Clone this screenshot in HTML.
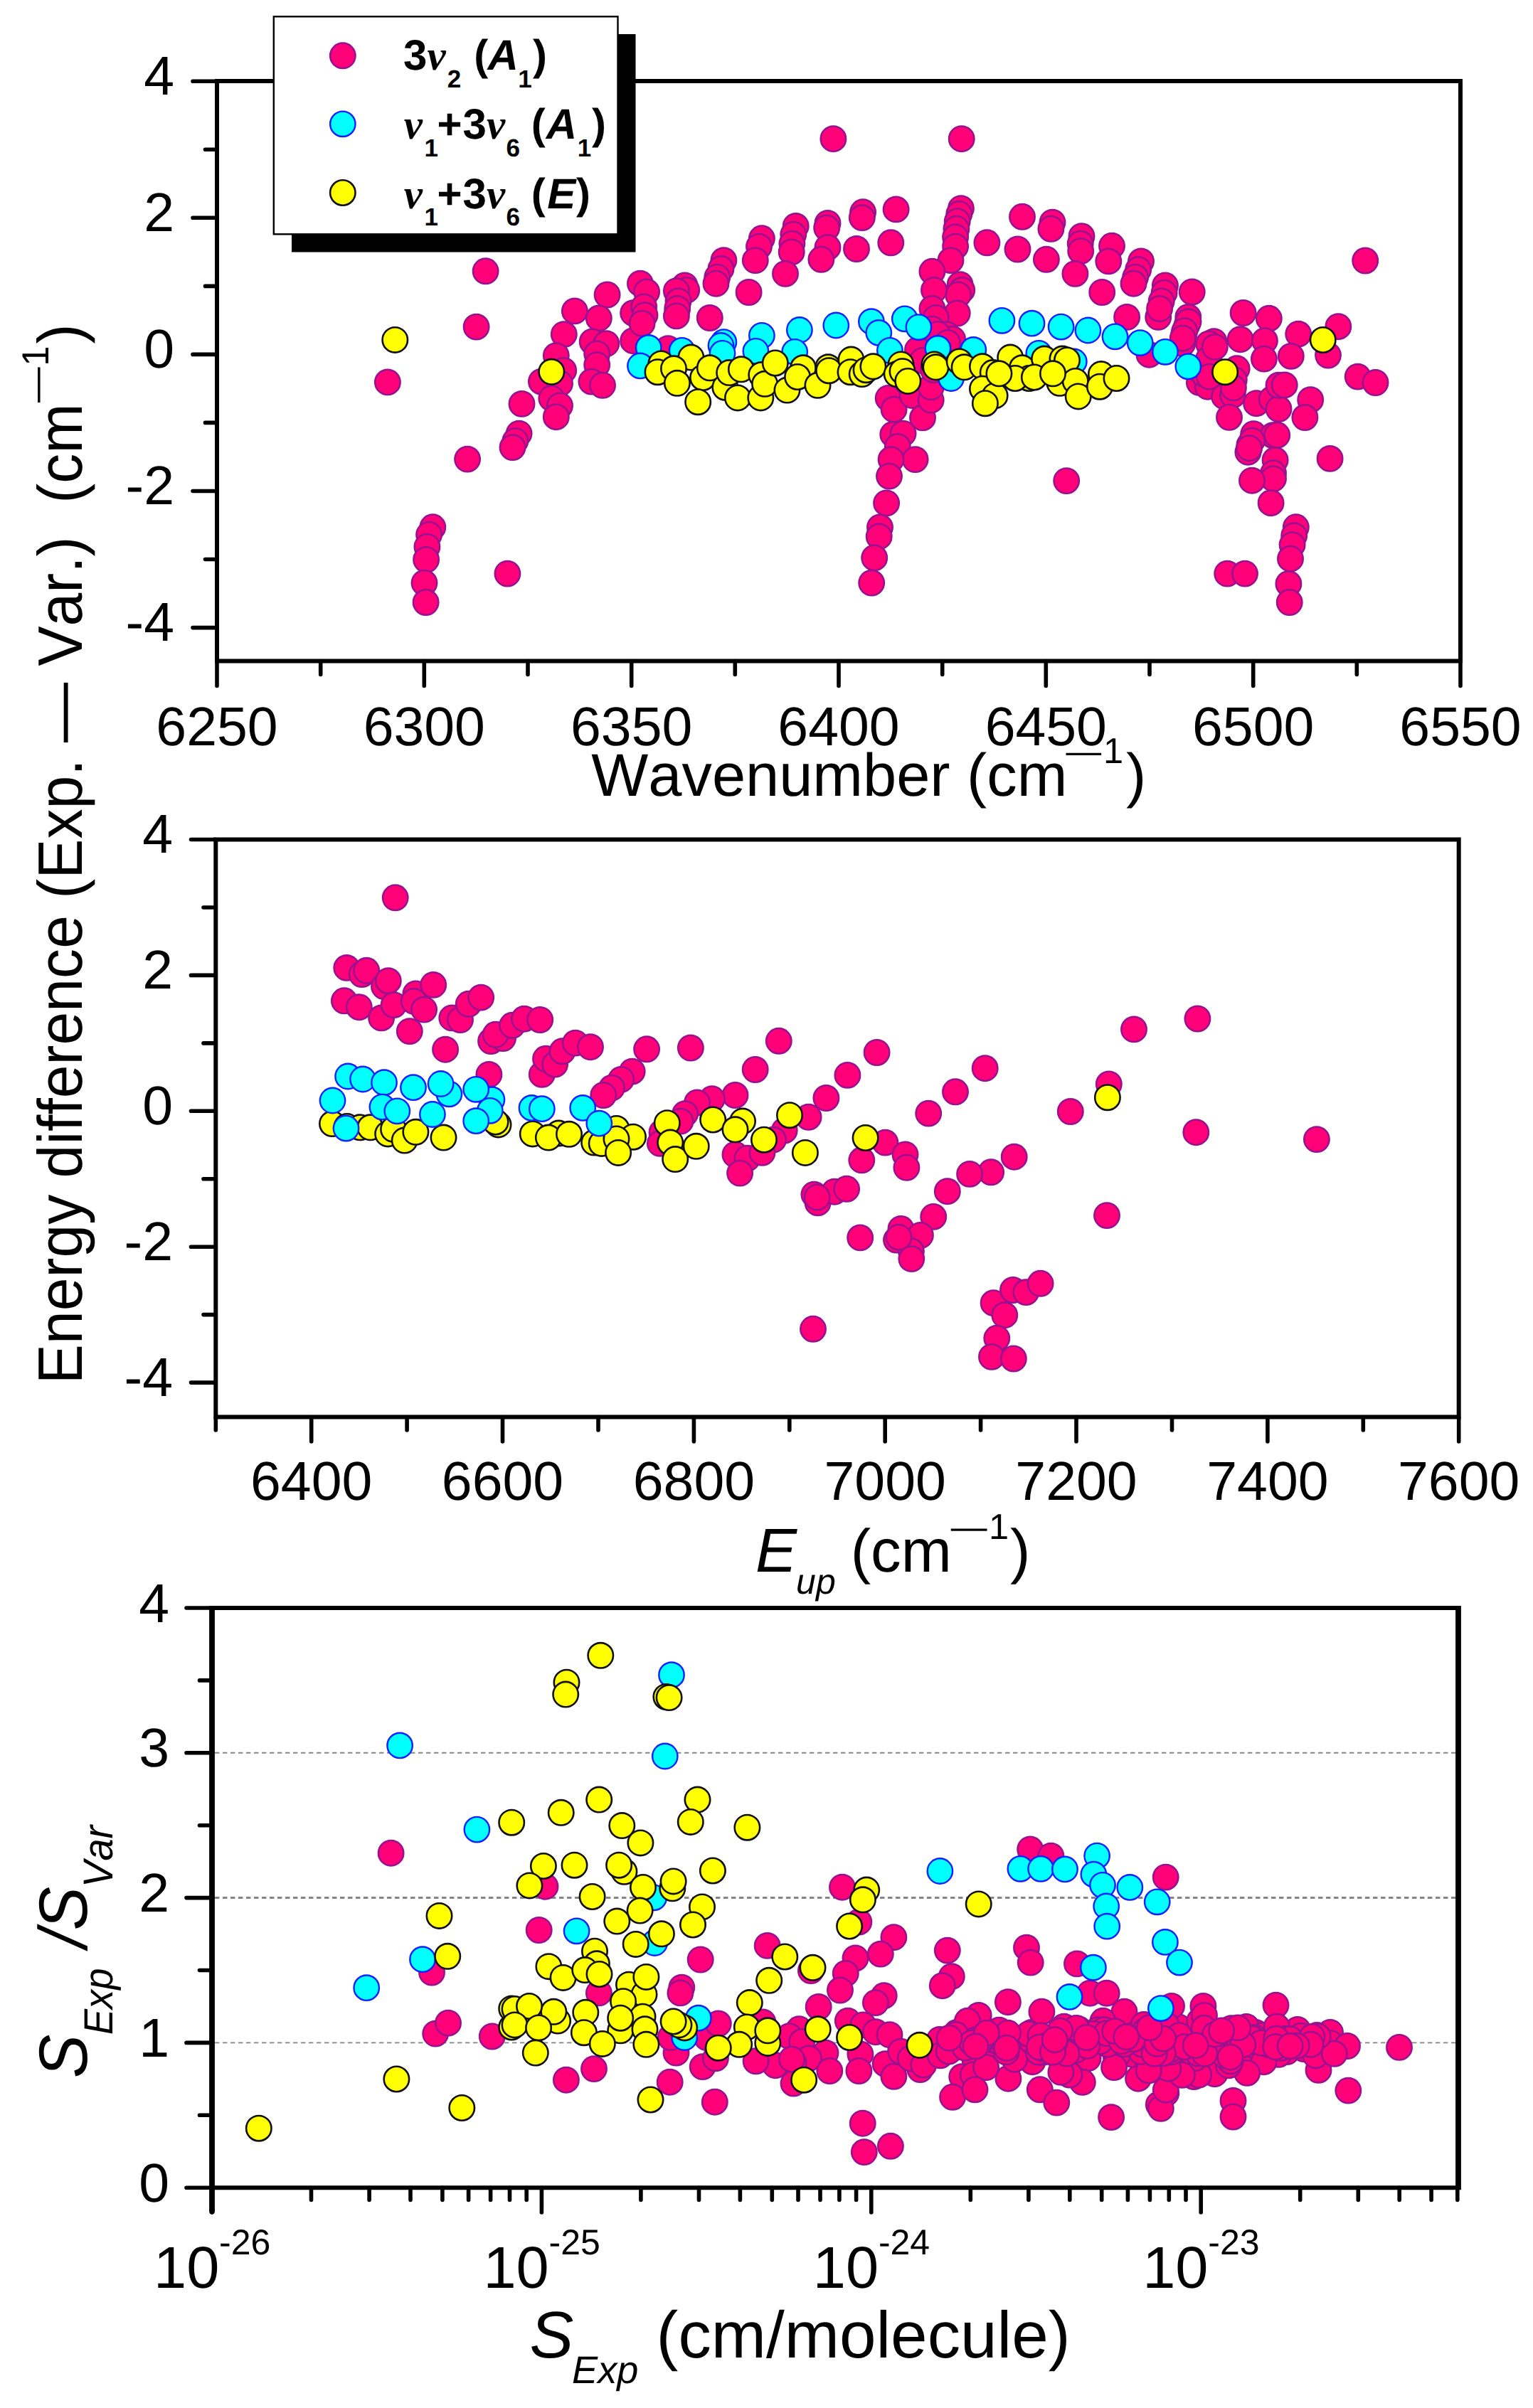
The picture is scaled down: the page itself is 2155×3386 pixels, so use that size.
<!DOCTYPE html>
<html><head><meta charset="utf-8"><title>Energy difference plots</title>
<style>html,body{margin:0;padding:0;background:#fff}svg{display:block}</style>
</head><body>
<svg width="2155" height="3386" viewBox="0 0 2155 3386">
<style>
text{font-family:"Liberation Sans",sans-serif;fill:#000;white-space:pre;font-kerning:none;text-rendering:geometricPrecision}
.tk{font-size:77px}
.sup{font-size:48px}
.ax{stroke:#000;stroke-width:6;fill:none;stroke-linecap:butt}
.tick{stroke:#000;stroke-width:5.6;fill:none;stroke-linecap:round}
.p circle{fill:#ff0078;stroke:#96128f;stroke-width:2.5}
.c circle{fill:#00ffff;stroke:#1020ff;stroke-width:2.4}
.y circle{fill:#ffff00;stroke:#111;stroke-width:2.6}
.it{font-style:italic}
.b{font-weight:bold}
.nu{font-family:"Liberation Serif","DejaVu Serif",serif;font-style:italic;font-weight:bold}
</style>
<rect width="2155" height="3386" fill="#fff"/>
<g id="panel1">
<g class="p">
<circle cx="682.6" cy="381.3" r="17.7"/><circle cx="669.6" cy="459.6" r="17.7"/><circle cx="544.9" cy="537.4" r="17.7"/><circle cx="853.6" cy="414.5" r="17.7"/><circle cx="807.9" cy="437.4" r="17.7"/><circle cx="841.8" cy="447.4" r="17.7"/><circle cx="792.8" cy="470.1" r="17.7"/><circle cx="832.7" cy="480.5" r="17.7"/><circle cx="852.3" cy="483.1" r="17.7"/><circle cx="839.2" cy="497.5" r="17.7"/><circle cx="839.2" cy="513.1" r="17.7"/><circle cx="781.8" cy="500.1" r="17.7"/><circle cx="831.4" cy="536.6" r="17.7"/><circle cx="847.0" cy="541.8" r="17.7"/><circle cx="792.2" cy="520.9" r="17.7"/><circle cx="760.9" cy="536.6" r="17.7"/><circle cx="787.0" cy="539.2" r="17.7"/><circle cx="775.3" cy="560.1" r="17.7"/><circle cx="787.0" cy="570.5" r="17.7"/><circle cx="733.5" cy="567.9" r="17.7"/><circle cx="781.8" cy="586.2" r="17.7"/><circle cx="890.1" cy="440.1" r="17.7"/><circle cx="890.1" cy="479.2" r="17.7"/><circle cx="1171.4" cy="195.2" r="17.7"/><circle cx="1213.1" cy="298.3" r="17.7"/><circle cx="1211.8" cy="306.1" r="17.7"/><circle cx="1259.6" cy="294.4" r="17.7"/><circle cx="1252.3" cy="341.3" r="17.7"/><circle cx="1204.0" cy="350.0" r="17.7"/><circle cx="1163.5" cy="313.9" r="17.7"/><circle cx="1162.2" cy="320.5" r="17.7"/><circle cx="1163.5" cy="347.9" r="17.7"/><circle cx="1154.4" cy="364.8" r="17.7"/><circle cx="1118.7" cy="317.9" r="17.7"/><circle cx="1115.3" cy="329.6" r="17.7"/><circle cx="1113.4" cy="342.6" r="17.7"/><circle cx="1112.7" cy="354.4" r="17.7"/><circle cx="1104.0" cy="384.9" r="17.7"/><circle cx="1070.9" cy="335.3" r="17.7"/><circle cx="1067.0" cy="346.6" r="17.7"/><circle cx="1061.8" cy="366.1" r="17.7"/><circle cx="1052.6" cy="411.0" r="17.7"/><circle cx="1017.4" cy="366.1" r="17.7"/><circle cx="1013.5" cy="377.9" r="17.7"/><circle cx="1008.3" cy="389.6" r="17.7"/><circle cx="1006.5" cy="398.7" r="17.7"/><circle cx="962.6" cy="401.4" r="17.7"/><circle cx="965.2" cy="407.9" r="17.7"/><circle cx="950.9" cy="409.2" r="17.7"/><circle cx="953.5" cy="423.5" r="17.7"/><circle cx="952.2" cy="434.0" r="17.7"/><circle cx="950.9" cy="444.4" r="17.7"/><circle cx="997.8" cy="447.0" r="17.7"/><circle cx="900.0" cy="398.7" r="17.7"/><circle cx="909.1" cy="410.5" r="17.7"/><circle cx="905.2" cy="431.4" r="17.7"/><circle cx="906.5" cy="443.1" r="17.7"/><circle cx="902.6" cy="454.8" r="17.7"/><circle cx="939.1" cy="490.1" r="17.7"/><circle cx="1584.1" cy="445.9" r="17.7"/><circle cx="1628.2" cy="445.9" r="17.7"/><circle cx="1670.3" cy="445.9" r="17.7"/><circle cx="1668.3" cy="457.6" r="17.7"/><circle cx="1664.4" cy="469.4" r="17.7"/><circle cx="1662.4" cy="483.1" r="17.7"/><circle cx="1615.5" cy="498.7" r="17.7"/><circle cx="1706.5" cy="480.1" r="17.7"/><circle cx="1703.5" cy="490.9" r="17.7"/><circle cx="1697.7" cy="518.3" r="17.7"/><circle cx="1685.9" cy="537.8" r="17.7"/><circle cx="1697.7" cy="543.7" r="17.7"/><circle cx="1743.6" cy="477.2" r="17.7"/><circle cx="1747.6" cy="440.0" r="17.7"/><circle cx="1783.8" cy="447.8" r="17.7"/><circle cx="1777.9" cy="479.1" r="17.7"/><circle cx="1776.9" cy="504.6" r="17.7"/><circle cx="1738.7" cy="518.3" r="17.7"/><circle cx="1734.8" cy="533.9" r="17.7"/><circle cx="1721.1" cy="557.4" r="17.7"/><circle cx="1732.9" cy="555.5" r="17.7"/><circle cx="1728.0" cy="586.8" r="17.7"/><circle cx="1766.1" cy="567.2" r="17.7"/><circle cx="1787.7" cy="561.3" r="17.7"/><circle cx="1797.5" cy="575.0" r="17.7"/><circle cx="1797.5" cy="541.8" r="17.7"/><circle cx="1762.2" cy="610.3" r="17.7"/><circle cx="1756.4" cy="625.9" r="17.7"/><circle cx="1789.6" cy="612.2" r="17.7"/><circle cx="1754.4" cy="635.7" r="17.7"/><circle cx="1351.7" cy="195.2" r="17.7"/><circle cx="1350.9" cy="293.1" r="17.7"/><circle cx="1348.3" cy="300.9" r="17.7"/><circle cx="1345.7" cy="311.3" r="17.7"/><circle cx="1344.4" cy="321.8" r="17.7"/><circle cx="1343.1" cy="333.5" r="17.7"/><circle cx="1343.1" cy="346.6" r="17.7"/><circle cx="1336.5" cy="366.1" r="17.7"/><circle cx="1349.6" cy="400.1" r="17.7"/><circle cx="1352.2" cy="407.9" r="17.7"/><circle cx="1347.0" cy="414.4" r="17.7"/><circle cx="1345.7" cy="440.5" r="17.7"/><circle cx="1310.4" cy="381.8" r="17.7"/><circle cx="1313.0" cy="407.9" r="17.7"/><circle cx="1310.4" cy="434.0" r="17.7"/><circle cx="1315.7" cy="447.0" r="17.7"/><circle cx="1331.3" cy="470.5" r="17.7"/><circle cx="1339.1" cy="477.0" r="17.7"/><circle cx="1310.4" cy="462.7" r="17.7"/><circle cx="1387.4" cy="341.3" r="17.7"/><circle cx="1437.0" cy="304.8" r="17.7"/><circle cx="1430.5" cy="350.5" r="17.7"/><circle cx="1479.5" cy="312.6" r="17.7"/><circle cx="1477.4" cy="321.8" r="17.7"/><circle cx="1470.9" cy="364.8" r="17.7"/><circle cx="1520.5" cy="332.2" r="17.7"/><circle cx="1518.7" cy="342.6" r="17.7"/><circle cx="1519.2" cy="353.1" r="17.7"/><circle cx="1511.4" cy="384.9" r="17.7"/><circle cx="1563.0" cy="345.8" r="17.7"/><circle cx="1558.3" cy="367.4" r="17.7"/><circle cx="1549.2" cy="411.0" r="17.7"/><circle cx="1604.0" cy="367.4" r="17.7"/><circle cx="1600.1" cy="379.2" r="17.7"/><circle cx="1596.2" cy="389.6" r="17.7"/><circle cx="1593.5" cy="398.7" r="17.7"/><circle cx="1637.9" cy="401.4" r="17.7"/><circle cx="1636.6" cy="411.8" r="17.7"/><circle cx="1632.7" cy="423.5" r="17.7"/><circle cx="1630.1" cy="434.0" r="17.7"/><circle cx="1675.7" cy="410.5" r="17.7"/><circle cx="1670.5" cy="452.2" r="17.7"/><circle cx="1665.3" cy="465.3" r="17.7"/><circle cx="1662.7" cy="475.7" r="17.7"/><circle cx="1699.2" cy="483.5" r="17.7"/><circle cx="1691.4" cy="525.3" r="17.7"/><circle cx="1699.2" cy="504.4" r="17.7"/><circle cx="1919.2" cy="366.5" r="17.7"/><circle cx="1881.3" cy="459.2" r="17.7"/><circle cx="1825.2" cy="469.6" r="17.7"/><circle cx="1707.8" cy="487.9" r="17.7"/><circle cx="1814.8" cy="500.9" r="17.7"/><circle cx="1867.0" cy="499.6" r="17.7"/><circle cx="1733.9" cy="545.3" r="17.7"/><circle cx="1805.7" cy="541.4" r="17.7"/><circle cx="1908.7" cy="529.6" r="17.7"/><circle cx="1933.5" cy="538.0" r="17.7"/><circle cx="1842.2" cy="562.2" r="17.7"/><circle cx="1834.4" cy="587.0" r="17.7"/><circle cx="1795.2" cy="611.8" r="17.7"/><circle cx="1760.0" cy="619.6" r="17.7"/><circle cx="1756.1" cy="630.1" r="17.7"/><circle cx="1792.6" cy="647.0" r="17.7"/><circle cx="1790.0" cy="665.3" r="17.7"/><circle cx="1790.0" cy="673.1" r="17.7"/><circle cx="1869.6" cy="644.9" r="17.7"/><circle cx="1760.0" cy="675.7" r="17.7"/><circle cx="1700.0" cy="529.6" r="17.7"/><circle cx="1821.8" cy="741.3" r="17.7"/><circle cx="1819.2" cy="753.1" r="17.7"/><circle cx="1816.6" cy="766.1" r="17.7"/><circle cx="1814.0" cy="785.7" r="17.7"/><circle cx="1811.4" cy="820.9" r="17.7"/><circle cx="1812.7" cy="847.0" r="17.7"/><circle cx="1725.2" cy="806.6" r="17.7"/><circle cx="1750.0" cy="806.6" r="17.7"/><circle cx="729.6" cy="609.6" r="17.7"/><circle cx="724.4" cy="620.0" r="17.7"/><circle cx="720.5" cy="629.1" r="17.7"/><circle cx="657.1" cy="645.6" r="17.7"/><circle cx="608.3" cy="741.3" r="17.7"/><circle cx="603.1" cy="751.8" r="17.7"/><circle cx="600.4" cy="768.7" r="17.7"/><circle cx="599.1" cy="787.0" r="17.7"/><circle cx="596.5" cy="819.6" r="17.7"/><circle cx="598.6" cy="847.0" r="17.7"/><circle cx="713.4" cy="806.6" r="17.7"/><circle cx="1248.7" cy="560.0" r="17.7"/><circle cx="1256.6" cy="575.7" r="17.7"/><circle cx="1282.6" cy="556.1" r="17.7"/><circle cx="1297.0" cy="587.4" r="17.7"/><circle cx="1308.7" cy="562.6" r="17.7"/><circle cx="1255.3" cy="610.9" r="17.7"/><circle cx="1269.6" cy="609.6" r="17.7"/><circle cx="1261.8" cy="627.9" r="17.7"/><circle cx="1286.6" cy="646.1" r="17.7"/><circle cx="1252.6" cy="646.1" r="17.7"/><circle cx="1250.0" cy="669.6" r="17.7"/><circle cx="1246.1" cy="707.4" r="17.7"/><circle cx="1237.0" cy="741.4" r="17.7"/><circle cx="1235.7" cy="754.4" r="17.7"/><circle cx="1229.2" cy="784.4" r="17.7"/><circle cx="1225.2" cy="819.6" r="17.7"/><circle cx="1499.2" cy="676.1" r="17.7"/><circle cx="1308.7" cy="544.4" r="17.7"/><circle cx="1290.0" cy="492.0" r="17.7"/><circle cx="1297.0" cy="507.0" r="17.7"/><circle cx="1318.0" cy="470.0" r="17.7"/><circle cx="1332.0" cy="482.0" r="17.7"/><circle cx="1312.0" cy="520.0" r="17.7"/><circle cx="1325.0" cy="505.0" r="17.7"/><circle cx="1786.6" cy="707.2" r="17.7"/>
</g>
<g class="c">
<circle cx="1175.3" cy="457.5" r="17.7"/><circle cx="1224.9" cy="452.2" r="17.7"/><circle cx="1235.3" cy="467.9" r="17.7"/><circle cx="1271.8" cy="448.3" r="17.7"/><circle cx="1291.4" cy="460.1" r="17.7"/><circle cx="1123.9" cy="464.0" r="17.7"/><circle cx="1070.9" cy="471.8" r="17.7"/><circle cx="911.7" cy="488.9" r="17.7"/><circle cx="900.0" cy="514.4" r="17.7"/><circle cx="958.7" cy="492.8" r="17.7"/><circle cx="1017.4" cy="481.1" r="17.7"/><circle cx="1013.5" cy="486.0" r="17.7"/><circle cx="1015.5" cy="496.8" r="17.7"/><circle cx="1062.4" cy="493.8" r="17.7"/><circle cx="1117.2" cy="494.8" r="17.7"/><circle cx="1250.9" cy="492.8" r="17.7"/><circle cx="1318.4" cy="489.9" r="17.7"/><circle cx="1368.3" cy="491.9" r="17.7"/><circle cx="1337.0" cy="532.0" r="17.7"/><circle cx="1408.4" cy="450.8" r="17.7"/><circle cx="1450.5" cy="454.7" r="17.7"/><circle cx="1491.6" cy="459.6" r="17.7"/><circle cx="1460.3" cy="496.8" r="17.7"/><circle cx="1529.4" cy="464.5" r="17.7"/><circle cx="1567.5" cy="473.3" r="17.7"/><circle cx="1602.7" cy="482.1" r="17.7"/><circle cx="1638.0" cy="494.8" r="17.7"/><circle cx="1670.3" cy="515.3" r="17.7"/><circle cx="1509.8" cy="508.5" r="17.7"/>
</g>
<g class="y">
<circle cx="555.3" cy="477.9" r="17.7"/><circle cx="775.3" cy="522.8" r="17.7"/><circle cx="971.4" cy="502.6" r="17.7"/><circle cx="929.4" cy="511.4" r="17.7"/><circle cx="924.5" cy="523.2" r="17.7"/><circle cx="947.0" cy="518.3" r="17.7"/><circle cx="951.9" cy="538.8" r="17.7"/><circle cx="988.1" cy="531.0" r="17.7"/><circle cx="997.8" cy="517.3" r="17.7"/><circle cx="981.2" cy="565.2" r="17.7"/><circle cx="1019.4" cy="544.7" r="17.7"/><circle cx="1025.2" cy="524.1" r="17.7"/><circle cx="1041.9" cy="519.3" r="17.7"/><circle cx="1037.0" cy="559.4" r="17.7"/><circle cx="1069.3" cy="559.4" r="17.7"/><circle cx="1070.3" cy="527.1" r="17.7"/><circle cx="1075.1" cy="539.8" r="17.7"/><circle cx="1089.8" cy="510.5" r="17.7"/><circle cx="1106.5" cy="548.6" r="17.7"/><circle cx="1129.0" cy="517.3" r="17.7"/><circle cx="1121.1" cy="530.0" r="17.7"/><circle cx="1149.5" cy="541.8" r="17.7"/><circle cx="1164.2" cy="516.3" r="17.7"/><circle cx="1165.2" cy="521.2" r="17.7"/><circle cx="1196.5" cy="505.6" r="17.7"/><circle cx="1195.5" cy="523.2" r="17.7"/><circle cx="1211.7" cy="526.1" r="17.7"/><circle cx="1217.6" cy="520.2" r="17.7"/><circle cx="1227.4" cy="515.3" r="17.7"/><circle cx="1266.5" cy="512.4" r="17.7"/><circle cx="1260.7" cy="526.1" r="17.7"/><circle cx="1268.5" cy="522.2" r="17.7"/><circle cx="1276.3" cy="535.9" r="17.7"/><circle cx="1313.5" cy="512.4" r="17.7"/><circle cx="1315.5" cy="516.3" r="17.7"/><circle cx="1348.7" cy="508.5" r="17.7"/><circle cx="1355.6" cy="516.3" r="17.7"/><circle cx="1381.0" cy="515.3" r="17.7"/><circle cx="1395.7" cy="524.1" r="17.7"/><circle cx="1381.0" cy="546.7" r="17.7"/><circle cx="1398.6" cy="556.4" r="17.7"/><circle cx="1384.9" cy="567.2" r="17.7"/><circle cx="1420.2" cy="502.6" r="17.7"/><circle cx="1436.8" cy="517.3" r="17.7"/><circle cx="1446.6" cy="532.0" r="17.7"/><circle cx="1468.1" cy="504.6" r="17.7"/><circle cx="1488.6" cy="532.0" r="17.7"/><circle cx="1489.6" cy="538.8" r="17.7"/><circle cx="1493.5" cy="504.6" r="17.7"/><circle cx="1427.0" cy="532.0" r="17.7"/><circle cx="1500.0" cy="506.5" r="17.7"/><circle cx="1511.7" cy="535.9" r="17.7"/><circle cx="1515.7" cy="557.4" r="17.7"/><circle cx="1547.9" cy="526.1" r="17.7"/><circle cx="1546.0" cy="543.7" r="17.7"/><circle cx="1569.5" cy="532.0" r="17.7"/><circle cx="1722.1" cy="523.2" r="17.7"/><circle cx="1404.4" cy="525.3" r="17.7"/><circle cx="1453.9" cy="530.5" r="17.7"/><circle cx="1480.0" cy="525.3" r="17.7"/><circle cx="1859.7" cy="478.0" r="17.7"/>
</g>
<path class="ax" d="M305.0 114.0 H2053.0 V929.5 H305.0 Z"/>
<path class="tick" d="M305.0 882.6 H271.0 M305.0 786.5 H288.5 M305.0 690.5 H271.0 M305.0 594.4 H288.5 M305.0 498.4 H271.0 M305.0 402.4 H288.5 M305.0 306.3 H271.0 M305.0 210.3 H288.5 M305.0 114.2 H271.0 M305.0 929.5 V964.5 M450.7 929.5 V948.5 M596.3 929.5 V964.5 M742.0 929.5 V948.5 M887.7 929.5 V964.5 M1033.3 929.5 V948.5 M1179.0 929.5 V964.5 M1324.7 929.5 V948.5 M1470.3 929.5 V964.5 M1616.0 929.5 V948.5 M1761.7 929.5 V964.5 M1907.3 929.5 V948.5 M2053.0 929.5 V964.5"/>
<text class="tk" x="245" y="901.1" text-anchor="end">-4</text>
<text class="tk" x="245" y="709.0" text-anchor="end">-2</text>
<text class="tk" x="245" y="516.9" text-anchor="end">0</text>
<text class="tk" x="245" y="324.8" text-anchor="end">2</text>
<text class="tk" x="245" y="132.7" text-anchor="end">4</text>
<text class="tk" x="305.0" y="1047.5" text-anchor="middle">6250</text>
<text class="tk" x="596.3" y="1047.5" text-anchor="middle">6300</text>
<text class="tk" x="887.7" y="1047.5" text-anchor="middle">6350</text>
<text class="tk" x="1179.0" y="1047.5" text-anchor="middle">6400</text>
<text class="tk" x="1470.3" y="1047.5" text-anchor="middle">6450</text>
<text class="tk" x="1761.7" y="1047.5" text-anchor="middle">6500</text>
<text class="tk" x="2053.0" y="1047.5" text-anchor="middle">6550</text>
</g>
<g id="legend">
<rect x="410" y="48" width="483.5" height="306.5" fill="#000"/>
<rect x="384.8" y="23.3" width="483.7" height="306" fill="#fff" stroke="#000" stroke-width="2.4"/>
<g class="p"><circle cx="481.8" cy="78.3" r="17.7"/></g>
<g class="c"><circle cx="481.8" cy="174.3" r="17.7"/></g>
<g class="y"><circle cx="481.8" cy="271" r="17.7"/></g>
<text class="b"><tspan x="567.0" y="98.3" font-size="60">3</tspan><tspan class="nu" x="600.5" y="98.3" font-size="59">ν</tspan><tspan x="628.8" y="122.8" font-size="35">2</tspan><tspan x="666.2" y="98.3" font-size="60">(</tspan><tspan class="it" x="685.6" y="98.3" font-size="60">A</tspan><tspan x="728.2" y="122.8" font-size="35">1</tspan><tspan x="749.1" y="98.3" font-size="60">)</tspan></text>
<text class="b"><tspan class="nu" x="567.8" y="195.2" font-size="59">ν</tspan><tspan x="596.5" y="219.7" font-size="35">1</tspan><tspan x="614.5" y="195.2" font-size="60">+</tspan><tspan x="650.6" y="195.2" font-size="60">3</tspan><tspan class="nu" x="683.9" y="195.2" font-size="59">ν</tspan><tspan x="711.5" y="219.7" font-size="35">6</tspan><tspan x="746.8" y="195.2" font-size="60">(</tspan><tspan class="it" x="767.8" y="195.2" font-size="60">A</tspan><tspan x="811.7" y="219.7" font-size="35">1</tspan><tspan x="831.9" y="195.2" font-size="60">)</tspan></text>
<text class="b"><tspan class="nu" x="567.8" y="292.6" font-size="59">ν</tspan><tspan x="596.5" y="317.1" font-size="35">1</tspan><tspan x="614.5" y="292.6" font-size="60">+</tspan><tspan x="650.6" y="292.6" font-size="60">3</tspan><tspan class="nu" x="683.9" y="292.6" font-size="59">ν</tspan><tspan x="711.5" y="317.1" font-size="35">6</tspan><tspan x="746.8" y="292.6" font-size="60">(</tspan><tspan class="it" x="769.2" y="292.6" font-size="60">E</tspan><tspan x="810.1" y="292.6" font-size="60">)</tspan></text>
</g>
<g id="panel2">
<g class="p">
<circle cx="555.7" cy="1262.3" r="17.7"/><circle cx="487.3" cy="1360.9" r="17.7"/><circle cx="508.7" cy="1370.0" r="17.7"/><circle cx="515.2" cy="1364.8" r="17.7"/><circle cx="540.0" cy="1387.0" r="17.7"/><circle cx="545.8" cy="1379.2" r="17.7"/><circle cx="483.9" cy="1407.3" r="17.7"/><circle cx="504.8" cy="1416.2" r="17.7"/><circle cx="536.1" cy="1431.4" r="17.7"/><circle cx="553.6" cy="1413.1" r="17.7"/><circle cx="584.4" cy="1397.4" r="17.7"/><circle cx="581.8" cy="1407.9" r="17.7"/><circle cx="596.1" cy="1419.6" r="17.7"/><circle cx="609.2" cy="1384.9" r="17.7"/><circle cx="575.8" cy="1450.1" r="17.7"/><circle cx="626.1" cy="1475.7" r="17.7"/><circle cx="635.3" cy="1431.4" r="17.7"/><circle cx="647.0" cy="1434.0" r="17.7"/><circle cx="658.7" cy="1411.8" r="17.7"/><circle cx="676.2" cy="1402.6" r="17.7"/><circle cx="690.1" cy="1464.0" r="17.7"/><circle cx="707.0" cy="1460.1" r="17.7"/><circle cx="696.6" cy="1454.8" r="17.7"/><circle cx="720.1" cy="1441.8" r="17.7"/><circle cx="737.0" cy="1432.7" r="17.7"/><circle cx="759.2" cy="1434.0" r="17.7"/><circle cx="687.4" cy="1510.9" r="17.7"/><circle cx="761.8" cy="1510.9" r="17.7"/><circle cx="767.0" cy="1488.8" r="17.7"/><circle cx="780.1" cy="1496.6" r="17.7"/><circle cx="790.5" cy="1478.3" r="17.7"/><circle cx="808.8" cy="1466.6" r="17.7"/><circle cx="830.0" cy="1472.2" r="17.7"/><circle cx="909.1" cy="1475.3" r="17.7"/><circle cx="888.7" cy="1506.6" r="17.7"/><circle cx="873.1" cy="1517.9" r="17.7"/><circle cx="860.0" cy="1529.6" r="17.7"/><circle cx="848.3" cy="1540.0" r="17.7"/><circle cx="970.9" cy="1473.5" r="17.7"/><circle cx="1094.8" cy="1463.8" r="17.7"/><circle cx="1061.7" cy="1504.0" r="17.7"/><circle cx="1033.5" cy="1540.0" r="17.7"/><circle cx="1000.9" cy="1545.3" r="17.7"/><circle cx="980.0" cy="1550.5" r="17.7"/><circle cx="963.1" cy="1566.1" r="17.7"/><circle cx="956.6" cy="1576.6" r="17.7"/><circle cx="930.5" cy="1592.2" r="17.7"/><circle cx="927.9" cy="1607.9" r="17.7"/><circle cx="1161.4" cy="1544.0" r="17.7"/><circle cx="1136.6" cy="1570.8" r="17.7"/><circle cx="1102.7" cy="1589.6" r="17.7"/><circle cx="1087.0" cy="1602.7" r="17.7"/><circle cx="1191.4" cy="1511.9" r="17.7"/><circle cx="1033.5" cy="1623.5" r="17.7"/><circle cx="1050.5" cy="1628.8" r="17.7"/><circle cx="1040.1" cy="1649.6" r="17.7"/><circle cx="1071.4" cy="1620.9" r="17.7"/><circle cx="1144.4" cy="1679.6" r="17.7"/><circle cx="1149.6" cy="1691.4" r="17.7"/><circle cx="1173.1" cy="1675.7" r="17.7"/><circle cx="1190.1" cy="1671.8" r="17.7"/><circle cx="1232.6" cy="1480.0" r="17.7"/><circle cx="1384.7" cy="1502.2" r="17.7"/><circle cx="1343.0" cy="1535.3" r="17.7"/><circle cx="1305.2" cy="1565.6" r="17.7"/><circle cx="1504.8" cy="1563.0" r="17.7"/><circle cx="1558.8" cy="1524.4" r="17.7"/><circle cx="1594.0" cy="1447.4" r="17.7"/><circle cx="1244.4" cy="1606.6" r="17.7"/><circle cx="1272.5" cy="1623.5" r="17.7"/><circle cx="1274.4" cy="1641.8" r="17.7"/><circle cx="1425.7" cy="1626.7" r="17.7"/><circle cx="1393.1" cy="1648.3" r="17.7"/><circle cx="1363.1" cy="1650.9" r="17.7"/><circle cx="1331.8" cy="1675.2" r="17.7"/><circle cx="1312.2" cy="1710.9" r="17.7"/><circle cx="1266.5" cy="1727.9" r="17.7"/><circle cx="1293.9" cy="1737.0" r="17.7"/><circle cx="1260.0" cy="1743.6" r="17.7"/><circle cx="1280.9" cy="1759.2" r="17.7"/><circle cx="1683.4" cy="1432.5" r="17.7"/><circle cx="1681.3" cy="1592.2" r="17.7"/><circle cx="1850.9" cy="1602.1" r="17.7"/><circle cx="1211.3" cy="1631.3" r="17.7"/><circle cx="1263.5" cy="1739.6" r="17.7"/><circle cx="1281.3" cy="1770.1" r="17.7"/><circle cx="1209.2" cy="1740.4" r="17.7"/><circle cx="1148.7" cy="1683.5" r="17.7"/><circle cx="1143.0" cy="1868.8" r="17.7"/><circle cx="1396.6" cy="1832.2" r="17.7"/><circle cx="1412.3" cy="1849.2" r="17.7"/><circle cx="1424.0" cy="1814.0" r="17.7"/><circle cx="1442.3" cy="1817.1" r="17.7"/><circle cx="1401.3" cy="1881.8" r="17.7"/><circle cx="1394.0" cy="1907.9" r="17.7"/><circle cx="1424.8" cy="1910.5" r="17.7"/><circle cx="1556.0" cy="1709.1" r="17.7"/><circle cx="1462.6" cy="1804.8" r="17.7"/>
</g>
<g class="y">
<circle cx="467.0" cy="1580.1" r="17.7"/><circle cx="487.8" cy="1584.0" r="17.7"/><circle cx="506.1" cy="1585.3" r="17.7"/><circle cx="520.5" cy="1585.3" r="17.7"/><circle cx="545.2" cy="1594.4" r="17.7"/><circle cx="553.1" cy="1587.9" r="17.7"/><circle cx="568.7" cy="1603.6" r="17.7"/><circle cx="584.4" cy="1591.8" r="17.7"/><circle cx="623.5" cy="1599.6" r="17.7"/><circle cx="700.5" cy="1581.4" r="17.7"/><circle cx="696.6" cy="1577.5" r="17.7"/><circle cx="748.8" cy="1594.4" r="17.7"/><circle cx="785.3" cy="1593.6" r="17.7"/><circle cx="770.9" cy="1599.6" r="17.7"/><circle cx="866.5" cy="1587.0" r="17.7"/><circle cx="890.0" cy="1598.7" r="17.7"/><circle cx="835.2" cy="1606.6" r="17.7"/><circle cx="845.7" cy="1607.9" r="17.7"/><circle cx="866.5" cy="1601.4" r="17.7"/><circle cx="869.1" cy="1620.9" r="17.7"/><circle cx="800.0" cy="1594.8" r="17.7"/><circle cx="937.8" cy="1579.2" r="17.7"/><circle cx="942.2" cy="1606.6" r="17.7"/><circle cx="949.2" cy="1630.1" r="17.7"/><circle cx="978.7" cy="1611.8" r="17.7"/><circle cx="1002.2" cy="1574.5" r="17.7"/><circle cx="1044.0" cy="1576.6" r="17.7"/><circle cx="1033.5" cy="1588.3" r="17.7"/><circle cx="1074.0" cy="1602.7" r="17.7"/><circle cx="1110.0" cy="1568.2" r="17.7"/><circle cx="1131.9" cy="1620.9" r="17.7"/><circle cx="1556.9" cy="1543.2" r="17.7"/><circle cx="1216.6" cy="1600.0" r="17.7"/>
</g>
<g class="c">
<circle cx="489.1" cy="1513.5" r="17.7"/><circle cx="510.0" cy="1517.5" r="17.7"/><circle cx="540.0" cy="1522.2" r="17.7"/><circle cx="581.0" cy="1529.2" r="17.7"/><circle cx="631.4" cy="1538.3" r="17.7"/><circle cx="619.6" cy="1524.0" r="17.7"/><circle cx="467.5" cy="1547.5" r="17.7"/><circle cx="537.4" cy="1556.6" r="17.7"/><circle cx="558.3" cy="1562.3" r="17.7"/><circle cx="607.9" cy="1567.0" r="17.7"/><circle cx="691.4" cy="1546.2" r="17.7"/><circle cx="688.8" cy="1561.8" r="17.7"/><circle cx="669.2" cy="1531.8" r="17.7"/><circle cx="669.2" cy="1576.2" r="17.7"/><circle cx="486.5" cy="1586.6" r="17.7"/><circle cx="747.5" cy="1557.9" r="17.7"/><circle cx="761.8" cy="1559.2" r="17.7"/><circle cx="819.2" cy="1557.9" r="17.7"/><circle cx="842.3" cy="1579.7" r="17.7"/>
</g>
<path class="ax" d="M303.3 1180.6 H2050.7 V1992.6 H303.3 Z"/>
<path class="tick" d="M303.3 1944.1 H268.5 M303.3 1848.6 H286.0 M303.3 1753.2 H268.5 M303.3 1657.7 H286.0 M303.3 1562.3 H268.5 M303.3 1466.9 H286.0 M303.3 1371.4 H268.5 M303.3 1276.0 H286.0 M303.3 1180.5 H268.5 M303.3 1992.6 V2011.0 M437.7 1992.6 V2027.0 M572.1 1992.6 V2011.0 M706.5 1992.6 V2027.0 M841.0 1992.6 V2011.0 M975.4 1992.6 V2027.0 M1109.8 1992.6 V2011.0 M1244.2 1992.6 V2027.0 M1378.6 1992.6 V2011.0 M1513.0 1992.6 V2027.0 M1647.5 1992.6 V2011.0 M1781.9 1992.6 V2027.0 M1916.3 1992.6 V2011.0 M2050.7 1992.6 V2027.0"/>
<text class="tk" x="243" y="1962.8" text-anchor="end">-4</text>
<text class="tk" x="243" y="1771.9" text-anchor="end">-2</text>
<text class="tk" x="243" y="1581.0" text-anchor="end">0</text>
<text class="tk" x="243" y="1390.1" text-anchor="end">2</text>
<text class="tk" x="243" y="1199.2" text-anchor="end">4</text>
<text class="tk" x="437.7" y="2108.5" text-anchor="middle">6400</text>
<text class="tk" x="706.5" y="2108.5" text-anchor="middle">6600</text>
<text class="tk" x="975.4" y="2108.5" text-anchor="middle">6800</text>
<text class="tk" x="1244.2" y="2108.5" text-anchor="middle">7000</text>
<text class="tk" x="1513.0" y="2108.5" text-anchor="middle">7200</text>
<text class="tk" x="1781.9" y="2108.5" text-anchor="middle">7400</text>
<text class="tk" x="2050.7" y="2108.5" text-anchor="middle">7600</text>
</g>
<g id="panel3">
<path d="M302.0 2872.4 H2047.0" stroke="#858585" stroke-width="1.9" stroke-dasharray="6.4 4.6" fill="none"/>
<path d="M302.0 2668.6 H2047.0" stroke="#858585" stroke-width="3.0" stroke-dasharray="6.4 4.6" fill="none"/>
<path d="M302.0 2464.8 H2047.0" stroke="#858585" stroke-width="2.1" stroke-dasharray="6.4 4.6" fill="none"/>
<g class="p">
<circle cx="1345.0" cy="2858.0" r="17.7"/><circle cx="1366.0" cy="2868.0" r="17.7"/><circle cx="1387.0" cy="2878.0" r="17.7"/><circle cx="1408.0" cy="2863.0" r="17.7"/><circle cx="1429.0" cy="2873.0" r="17.7"/><circle cx="1450.0" cy="2858.0" r="17.7"/><circle cx="1471.0" cy="2868.0" r="17.7"/><circle cx="1492.0" cy="2878.0" r="17.7"/><circle cx="1513.0" cy="2863.0" r="17.7"/><circle cx="1534.0" cy="2873.0" r="17.7"/><circle cx="1555.0" cy="2858.0" r="17.7"/><circle cx="1576.0" cy="2868.0" r="17.7"/><circle cx="1597.0" cy="2878.0" r="17.7"/><circle cx="1618.0" cy="2863.0" r="17.7"/><circle cx="1639.0" cy="2873.0" r="17.7"/><circle cx="1660.0" cy="2858.0" r="17.7"/><circle cx="1681.0" cy="2868.0" r="17.7"/><circle cx="1702.0" cy="2878.0" r="17.7"/><circle cx="1723.0" cy="2863.0" r="17.7"/><circle cx="1744.0" cy="2873.0" r="17.7"/><circle cx="1765.0" cy="2858.0" r="17.7"/><circle cx="1786.0" cy="2868.0" r="17.7"/><circle cx="1807.0" cy="2878.0" r="17.7"/><circle cx="1828.0" cy="2863.0" r="17.7"/><circle cx="1849.0" cy="2873.0" r="17.7"/><circle cx="1870.0" cy="2858.0" r="17.7"/><circle cx="1560.0" cy="2850.0" r="17.7"/><circle cx="1569.0" cy="2893.0" r="17.7"/><circle cx="1584.0" cy="2862.0" r="17.7"/><circle cx="1593.0" cy="2889.0" r="17.7"/><circle cx="1608.0" cy="2858.0" r="17.7"/><circle cx="1617.0" cy="2885.0" r="17.7"/><circle cx="1632.0" cy="2854.0" r="17.7"/><circle cx="1641.0" cy="2881.0" r="17.7"/><circle cx="1656.0" cy="2850.0" r="17.7"/><circle cx="1665.0" cy="2893.0" r="17.7"/><circle cx="1680.0" cy="2862.0" r="17.7"/><circle cx="1689.0" cy="2889.0" r="17.7"/><circle cx="1704.0" cy="2858.0" r="17.7"/><circle cx="1713.0" cy="2885.0" r="17.7"/><circle cx="1728.0" cy="2854.0" r="17.7"/><circle cx="1737.0" cy="2881.0" r="17.7"/><circle cx="1752.0" cy="2850.0" r="17.7"/><circle cx="1761.0" cy="2893.0" r="17.7"/><circle cx="1776.0" cy="2862.0" r="17.7"/><circle cx="1785.0" cy="2889.0" r="17.7"/><circle cx="1800.0" cy="2858.0" r="17.7"/><circle cx="1809.0" cy="2885.0" r="17.7"/><circle cx="1824.0" cy="2854.0" r="17.7"/><circle cx="1833.0" cy="2881.0" r="17.7"/><circle cx="549.6" cy="2605.7" r="17.7"/><circle cx="766.5" cy="2652.7" r="17.7"/><circle cx="607.0" cy="2773.5" r="17.7"/><circle cx="612.2" cy="2859.6" r="17.7"/><circle cx="630.0" cy="2844.7" r="17.7"/><circle cx="691.8" cy="2863.5" r="17.7"/><circle cx="757.7" cy="2714.0" r="17.7"/><circle cx="841.9" cy="2802.4" r="17.7"/><circle cx="984.7" cy="2755.5" r="17.7"/><circle cx="958.3" cy="2794.6" r="17.7"/><circle cx="956.4" cy="2802.4" r="17.7"/><circle cx="835.0" cy="2909.1" r="17.7"/><circle cx="795.9" cy="2924.7" r="17.7"/><circle cx="941.7" cy="2927.7" r="17.7"/><circle cx="950.5" cy="2886.6" r="17.7"/><circle cx="987.7" cy="2906.1" r="17.7"/><circle cx="942.7" cy="2865.0" r="17.7"/><circle cx="993.5" cy="2865.0" r="17.7"/><circle cx="1184.0" cy="2653.7" r="17.7"/><circle cx="1207.4" cy="2702.6" r="17.7"/><circle cx="1078.7" cy="2735.9" r="17.7"/><circle cx="1256.4" cy="2724.1" r="17.7"/><circle cx="1237.8" cy="2747.6" r="17.7"/><circle cx="1202.5" cy="2753.5" r="17.7"/><circle cx="1188.8" cy="2775.0" r="17.7"/><circle cx="1181.0" cy="2798.5" r="17.7"/><circle cx="1242.7" cy="2806.3" r="17.7"/><circle cx="1230.9" cy="2816.1" r="17.7"/><circle cx="1150.7" cy="2822.0" r="17.7"/><circle cx="1139.9" cy="2771.1" r="17.7"/><circle cx="1009.8" cy="2845.5" r="17.7"/><circle cx="1072.4" cy="2843.5" r="17.7"/><circle cx="1191.8" cy="2841.6" r="17.7"/><circle cx="1213.3" cy="2847.4" r="17.7"/><circle cx="1230.9" cy="2857.2" r="17.7"/><circle cx="1250.5" cy="2861.1" r="17.7"/><circle cx="1123.3" cy="2853.3" r="17.7"/><circle cx="1109.6" cy="2863.1" r="17.7"/><circle cx="1127.2" cy="2870.9" r="17.7"/><circle cx="1160.5" cy="2886.6" r="17.7"/><circle cx="1137.0" cy="2894.4" r="17.7"/><circle cx="1115.5" cy="2900.3" r="17.7"/><circle cx="1090.0" cy="2904.2" r="17.7"/><circle cx="1062.6" cy="2898.3" r="17.7"/><circle cx="1166.3" cy="2912.0" r="17.7"/><circle cx="1209.4" cy="2888.5" r="17.7"/><circle cx="1207.4" cy="2912.0" r="17.7"/><circle cx="1244.6" cy="2902.2" r="17.7"/><circle cx="1256.4" cy="2919.8" r="17.7"/><circle cx="1266.1" cy="2884.6" r="17.7"/><circle cx="1293.5" cy="2910.1" r="17.7"/><circle cx="1115.5" cy="2929.6" r="17.7"/><circle cx="1005.9" cy="2894.4" r="17.7"/><circle cx="1279.8" cy="2894.4" r="17.7"/><circle cx="1448.2" cy="2600.4" r="17.7"/><circle cx="1477.4" cy="2609.6" r="17.7"/><circle cx="1638.7" cy="2639.6" r="17.7"/><circle cx="1331.8" cy="2742.6" r="17.7"/><circle cx="1337.8" cy="2779.2" r="17.7"/><circle cx="1324.8" cy="2792.2" r="17.7"/><circle cx="1443.0" cy="2738.7" r="17.7"/><circle cx="1448.7" cy="2759.6" r="17.7"/><circle cx="1514.0" cy="2761.4" r="17.7"/><circle cx="1416.9" cy="2815.2" r="17.7"/><circle cx="1532.2" cy="2802.7" r="17.7"/><circle cx="1555.7" cy="2802.7" r="17.7"/><circle cx="1647.0" cy="2820.9" r="17.7"/><circle cx="1375.7" cy="2834.0" r="17.7"/><circle cx="1360.0" cy="2841.8" r="17.7"/><circle cx="1464.4" cy="2828.8" r="17.7"/><circle cx="1404.4" cy="2854.8" r="17.7"/><circle cx="1495.7" cy="2849.6" r="17.7"/><circle cx="1580.5" cy="2828.8" r="17.7"/><circle cx="1550.5" cy="2841.8" r="17.7"/><circle cx="1607.9" cy="2847.0" r="17.7"/><circle cx="1639.2" cy="2847.0" r="17.7"/><circle cx="1691.4" cy="2820.9" r="17.7"/><circle cx="1686.2" cy="2841.8" r="17.7"/><circle cx="1320.9" cy="2867.9" r="17.7"/><circle cx="1347.0" cy="2878.3" r="17.7"/><circle cx="1393.9" cy="2867.9" r="17.7"/><circle cx="1417.4" cy="2873.1" r="17.7"/><circle cx="1446.1" cy="2860.1" r="17.7"/><circle cx="1482.6" cy="2867.9" r="17.7"/><circle cx="1521.8" cy="2865.3" r="17.7"/><circle cx="1560.9" cy="2860.1" r="17.7"/><circle cx="1592.2" cy="2867.9" r="17.7"/><circle cx="1626.2" cy="2870.5" r="17.7"/><circle cx="1660.1" cy="2867.9" r="17.7"/><circle cx="1691.4" cy="2873.1" r="17.7"/><circle cx="1487.9" cy="2891.4" r="17.7"/><circle cx="1370.5" cy="2896.6" r="17.7"/><circle cx="1451.3" cy="2899.2" r="17.7"/><circle cx="1529.6" cy="2894.0" r="17.7"/><circle cx="1571.4" cy="2888.8" r="17.7"/><circle cx="1613.1" cy="2896.6" r="17.7"/><circle cx="1652.3" cy="2894.0" r="17.7"/><circle cx="1686.2" cy="2899.2" r="17.7"/><circle cx="1352.2" cy="2920.1" r="17.7"/><circle cx="1367.8" cy="2917.5" r="17.7"/><circle cx="1417.4" cy="2922.7" r="17.7"/><circle cx="1386.1" cy="2907.0" r="17.7"/><circle cx="1521.8" cy="2927.9" r="17.7"/><circle cx="1503.5" cy="2917.5" r="17.7"/><circle cx="1566.1" cy="2907.0" r="17.7"/><circle cx="1600.1" cy="2922.7" r="17.7"/><circle cx="1639.2" cy="2943.6" r="17.7"/><circle cx="1644.4" cy="2912.3" r="17.7"/><circle cx="1678.3" cy="2920.1" r="17.7"/><circle cx="1461.8" cy="2938.3" r="17.7"/><circle cx="1339.1" cy="2948.8" r="17.7"/><circle cx="1370.5" cy="2938.3" r="17.7"/><circle cx="1485.3" cy="2956.6" r="17.7"/><circle cx="1628.8" cy="2959.2" r="17.7"/><circle cx="1693.0" cy="2834.0" r="17.7"/><circle cx="1793.5" cy="2819.6" r="17.7"/><circle cx="1794.8" cy="2849.6" r="17.7"/><circle cx="1708.7" cy="2864.0" r="17.7"/><circle cx="1724.4" cy="2860.1" r="17.7"/><circle cx="1740.0" cy="2865.3" r="17.7"/><circle cx="1763.5" cy="2865.3" r="17.7"/><circle cx="1760.9" cy="2875.7" r="17.7"/><circle cx="1797.4" cy="2888.8" r="17.7"/><circle cx="1813.1" cy="2874.4" r="17.7"/><circle cx="1828.7" cy="2862.7" r="17.7"/><circle cx="1849.6" cy="2886.2" r="17.7"/><circle cx="1870.5" cy="2873.1" r="17.7"/><circle cx="1894.0" cy="2877.0" r="17.7"/><circle cx="1853.5" cy="2910.9" r="17.7"/><circle cx="1776.5" cy="2899.2" r="17.7"/><circle cx="1753.1" cy="2914.9" r="17.7"/><circle cx="1708.7" cy="2901.8" r="17.7"/><circle cx="1707.4" cy="2916.2" r="17.7"/><circle cx="1685.2" cy="2917.5" r="17.7"/><circle cx="1727.0" cy="2904.4" r="17.7"/><circle cx="1967.0" cy="2878.9" r="17.7"/><circle cx="1895.3" cy="2939.6" r="17.7"/><circle cx="1733.5" cy="2954.0" r="17.7"/><circle cx="1680.0" cy="2873.1" r="17.7"/><circle cx="1680.0" cy="2894.0" r="17.7"/><circle cx="1004.8" cy="2955.7" r="17.7"/><circle cx="1212.7" cy="2985.7" r="17.7"/><circle cx="1214.8" cy="3026.1" r="17.7"/><circle cx="1251.9" cy="3017.8" r="17.7"/><circle cx="1298.3" cy="2903.5" r="17.7"/><circle cx="1491.4" cy="2913.9" r="17.7"/><circle cx="1113.0" cy="2895.7" r="17.7"/><circle cx="1321.8" cy="2890.4" r="17.7"/><circle cx="1426.2" cy="2895.7" r="17.7"/><circle cx="1562.1" cy="2977.1" r="17.7"/><circle cx="1631.8" cy="2964.8" r="17.7"/><circle cx="1638.8" cy="2938.7" r="17.7"/><circle cx="1733.5" cy="2976.5" r="17.7"/><circle cx="1661.8" cy="2917.8" r="17.7"/><circle cx="1642.2" cy="2908.7" r="17.7"/><circle cx="1614.8" cy="2911.3" r="17.7"/><circle cx="1729.6" cy="2898.3" r="17.7"/><circle cx="1849.6" cy="2890.4" r="17.7"/><circle cx="1875.7" cy="2887.8" r="17.7"/><circle cx="1609.8" cy="2855.6" r="17.7"/><circle cx="1730.8" cy="2852.2" r="17.7"/><circle cx="1688.3" cy="2865.1" r="17.7"/><circle cx="1511.5" cy="2871.3" r="17.7"/><circle cx="1503.9" cy="2868.1" r="17.7"/><circle cx="1515.8" cy="2853.0" r="17.7"/><circle cx="1647.1" cy="2885.4" r="17.7"/><circle cx="1535.8" cy="2858.8" r="17.7"/><circle cx="1722.2" cy="2890.7" r="17.7"/><circle cx="1703.5" cy="2866.5" r="17.7"/><circle cx="1851.2" cy="2861.9" r="17.7"/><circle cx="1807.6" cy="2866.8" r="17.7"/><circle cx="1543.4" cy="2854.2" r="17.7"/><circle cx="1604.1" cy="2884.9" r="17.7"/><circle cx="1556.9" cy="2874.6" r="17.7"/><circle cx="1726.4" cy="2865.4" r="17.7"/><circle cx="1692.7" cy="2851.8" r="17.7"/><circle cx="1512.1" cy="2858.1" r="17.7"/><circle cx="1741.7" cy="2867.8" r="17.7"/><circle cx="1606.2" cy="2874.8" r="17.7"/><circle cx="1657.7" cy="2862.2" r="17.7"/><circle cx="1783.9" cy="2875.0" r="17.7"/><circle cx="1580.3" cy="2874.3" r="17.7"/><circle cx="1684.3" cy="2887.5" r="17.7"/><circle cx="1759.9" cy="2866.8" r="17.7"/><circle cx="1852.7" cy="2863.4" r="17.7"/><circle cx="1644.7" cy="2882.3" r="17.7"/><circle cx="1546.2" cy="2870.5" r="17.7"/><circle cx="1504.5" cy="2878.4" r="17.7"/><circle cx="1772.9" cy="2872.5" r="17.7"/><circle cx="1813.9" cy="2867.3" r="17.7"/><circle cx="1747.3" cy="2875.2" r="17.7"/><circle cx="1704.6" cy="2869.1" r="17.7"/><circle cx="1800.8" cy="2879.9" r="17.7"/><circle cx="1665.4" cy="2878.2" r="17.7"/><circle cx="1512.4" cy="2879.9" r="17.7"/><circle cx="1729.4" cy="2892.7" r="17.7"/><circle cx="1794.1" cy="2866.7" r="17.7"/><circle cx="1632.7" cy="2878.4" r="17.7"/><circle cx="1498.3" cy="2869.3" r="17.7"/><circle cx="1552.2" cy="2854.2" r="17.7"/><circle cx="1511.8" cy="2882.8" r="17.7"/><circle cx="1537.9" cy="2859.9" r="17.7"/><circle cx="1634.7" cy="2887.3" r="17.7"/><circle cx="1519.8" cy="2868.8" r="17.7"/><circle cx="1693.3" cy="2887.9" r="17.7"/><circle cx="1793.1" cy="2878.3" r="17.7"/><circle cx="1593.0" cy="2867.3" r="17.7"/><circle cx="1622.7" cy="2887.9" r="17.7"/><circle cx="1844.4" cy="2864.0" r="17.7"/><circle cx="1555.2" cy="2859.2" r="17.7"/><circle cx="1576.3" cy="2870.3" r="17.7"/><circle cx="1708.0" cy="2860.6" r="17.7"/><circle cx="1491.5" cy="2867.4" r="17.7"/><circle cx="1626.6" cy="2873.9" r="17.7"/><circle cx="1842.6" cy="2874.8" r="17.7"/><circle cx="1680.7" cy="2876.2" r="17.7"/><circle cx="1740.2" cy="2851.4" r="17.7"/><circle cx="1822.8" cy="2876.6" r="17.7"/><circle cx="1813.6" cy="2877.0" r="17.7"/><circle cx="1635.2" cy="2866.6" r="17.7"/><circle cx="1528.3" cy="2876.9" r="17.7"/><circle cx="1513.0" cy="2852.0" r="17.7"/><circle cx="1567.2" cy="2856.1" r="17.7"/><circle cx="1615.8" cy="2851.3" r="17.7"/><circle cx="1490.1" cy="2855.7" r="17.7"/><circle cx="1527.5" cy="2865.0" r="17.7"/><circle cx="1499.4" cy="2887.5" r="17.7"/><circle cx="1717.2" cy="2855.5" r="17.7"/><circle cx="1583.3" cy="2864.3" r="17.7"/><circle cx="1388.3" cy="2861.4" r="17.7"/><circle cx="1465.8" cy="2885.8" r="17.7"/><circle cx="1404.6" cy="2871.5" r="17.7"/><circle cx="1343.7" cy="2860.9" r="17.7"/><circle cx="1384.8" cy="2865.4" r="17.7"/><circle cx="1462.6" cy="2862.5" r="17.7"/><circle cx="1333.7" cy="2884.6" r="17.7"/><circle cx="1414.5" cy="2862.1" r="17.7"/><circle cx="1416.9" cy="2858.8" r="17.7"/><circle cx="1414.5" cy="2885.4" r="17.7"/><circle cx="1468.1" cy="2877.5" r="17.7"/><circle cx="1371.8" cy="2868.3" r="17.7"/><circle cx="1356.7" cy="2879.6" r="17.7"/><circle cx="1415.2" cy="2879.8" r="17.7"/><circle cx="1382.7" cy="2864.2" r="17.7"/><circle cx="1459.8" cy="2885.6" r="17.7"/><circle cx="1466.4" cy="2880.6" r="17.7"/><circle cx="1460.9" cy="2878.7" r="17.7"/><circle cx="1366.3" cy="2872.5" r="17.7"/><circle cx="1386.9" cy="2858.8" r="17.7"/><circle cx="1334.5" cy="2865.8" r="17.7"/><circle cx="1371.5" cy="2877.4" r="17.7"/><circle cx="1483.0" cy="2870.5" r="17.7"/><circle cx="1479.9" cy="2885.7" r="17.7"/><circle cx="1482.8" cy="2868.2" r="17.7"/>
</g>
<g class="c">
<circle cx="562.1" cy="2454.4" r="17.7"/><circle cx="670.4" cy="2572.6" r="17.7"/><circle cx="944.0" cy="2355.2" r="17.7"/><circle cx="934.8" cy="2469.5" r="17.7"/><circle cx="919.2" cy="2668.3" r="17.7"/><circle cx="594.0" cy="2755.2" r="17.7"/><circle cx="515.2" cy="2795.2" r="17.7"/><circle cx="810.6" cy="2715.3" r="17.7"/><circle cx="920.2" cy="2732.0" r="17.7"/><circle cx="981.8" cy="2837.7" r="17.7"/><circle cx="962.2" cy="2865.0" r="17.7"/><circle cx="1321.4" cy="2631.0" r="17.7"/><circle cx="1434.4" cy="2627.8" r="17.7"/><circle cx="1463.1" cy="2627.8" r="17.7"/><circle cx="1497.0" cy="2628.4" r="17.7"/><circle cx="1542.1" cy="2609.6" r="17.7"/><circle cx="1537.4" cy="2635.7" r="17.7"/><circle cx="1550.0" cy="2650.8" r="17.7"/><circle cx="1588.3" cy="2653.9" r="17.7"/><circle cx="1555.2" cy="2680.5" r="17.7"/><circle cx="1556.2" cy="2708.7" r="17.7"/><circle cx="1626.7" cy="2674.3" r="17.7"/><circle cx="1637.9" cy="2730.9" r="17.7"/><circle cx="1658.0" cy="2759.6" r="17.7"/><circle cx="1536.9" cy="2766.7" r="17.7"/><circle cx="1503.5" cy="2807.9" r="17.7"/><circle cx="1631.9" cy="2824.1" r="17.7"/>
</g>
<g class="y">
<circle cx="719.2" cy="2562.7" r="17.7"/><circle cx="844.3" cy="2327.8" r="17.7"/><circle cx="796.5" cy="2365.7" r="17.7"/><circle cx="795.2" cy="2382.6" r="17.7"/><circle cx="936.4" cy="2386.0" r="17.7"/><circle cx="940.6" cy="2387.1" r="17.7"/><circle cx="842.2" cy="2530.6" r="17.7"/><circle cx="788.7" cy="2548.8" r="17.7"/><circle cx="874.3" cy="2567.1" r="17.7"/><circle cx="900.4" cy="2591.4" r="17.7"/><circle cx="980.5" cy="2530.6" r="17.7"/><circle cx="970.8" cy="2561.9" r="17.7"/><circle cx="1050.4" cy="2569.7" r="17.7"/><circle cx="763.9" cy="2624.0" r="17.7"/><circle cx="807.5" cy="2622.7" r="17.7"/><circle cx="877.4" cy="2631.8" r="17.7"/><circle cx="870.1" cy="2622.7" r="17.7"/><circle cx="744.4" cy="2651.4" r="17.7"/><circle cx="832.6" cy="2667.0" r="17.7"/><circle cx="945.3" cy="2655.3" r="17.7"/><circle cx="946.6" cy="2645.4" r="17.7"/><circle cx="904.0" cy="2654.0" r="17.7"/><circle cx="1001.9" cy="2630.5" r="17.7"/><circle cx="987.0" cy="2681.4" r="17.7"/><circle cx="899.6" cy="2686.6" r="17.7"/><circle cx="617.5" cy="2693.9" r="17.7"/><circle cx="629.2" cy="2750.8" r="17.7"/><circle cx="557.4" cy="2923.5" r="17.7"/><circle cx="649.3" cy="2964.0" r="17.7"/><circle cx="363.8" cy="2992.7" r="17.7"/><circle cx="719.2" cy="2824.4" r="17.7"/><circle cx="719.2" cy="2850.5" r="17.7"/><circle cx="867.3" cy="2701.6" r="17.7"/><circle cx="929.9" cy="2719.3" r="17.7"/><circle cx="893.7" cy="2733.9" r="17.7"/><circle cx="974.0" cy="2706.5" r="17.7"/><circle cx="836.0" cy="2743.7" r="17.7"/><circle cx="838.9" cy="2761.3" r="17.7"/><circle cx="771.4" cy="2765.2" r="17.7"/><circle cx="791.6" cy="2780.9" r="17.7"/><circle cx="822.3" cy="2770.1" r="17.7"/><circle cx="842.5" cy="2776.0" r="17.7"/><circle cx="884.0" cy="2790.7" r="17.7"/><circle cx="905.5" cy="2804.4" r="17.7"/><circle cx="908.4" cy="2779.9" r="17.7"/><circle cx="876.1" cy="2814.2" r="17.7"/><circle cx="903.5" cy="2835.7" r="17.7"/><circle cx="872.2" cy="2855.3" r="17.7"/><circle cx="872.2" cy="2837.7" r="17.7"/><circle cx="723.5" cy="2824.9" r="17.7"/><circle cx="784.1" cy="2841.6" r="17.7"/><circle cx="778.3" cy="2828.8" r="17.7"/><circle cx="744.0" cy="2821.0" r="17.7"/><circle cx="723.5" cy="2847.4" r="17.7"/><circle cx="757.1" cy="2851.4" r="17.7"/><circle cx="823.3" cy="2829.8" r="17.7"/><circle cx="820.9" cy="2858.2" r="17.7"/><circle cx="846.8" cy="2873.9" r="17.7"/><circle cx="906.5" cy="2853.3" r="17.7"/><circle cx="908.4" cy="2874.8" r="17.7"/><circle cx="752.8" cy="2886.6" r="17.7"/><circle cx="962.2" cy="2851.4" r="17.7"/><circle cx="954.4" cy="2847.4" r="17.7"/><circle cx="946.6" cy="2842.5" r="17.7"/><circle cx="1218.2" cy="2657.6" r="17.7"/><circle cx="1212.9" cy="2671.3" r="17.7"/><circle cx="1194.1" cy="2708.5" r="17.7"/><circle cx="1103.3" cy="2751.5" r="17.7"/><circle cx="1142.5" cy="2766.8" r="17.7"/><circle cx="1081.2" cy="2784.8" r="17.7"/><circle cx="1053.8" cy="2816.1" r="17.7"/><circle cx="1049.9" cy="2850.4" r="17.7"/><circle cx="1079.3" cy="2872.9" r="17.7"/><circle cx="1079.3" cy="2855.3" r="17.7"/><circle cx="1039.1" cy="2874.8" r="17.7"/><circle cx="1009.8" cy="2879.7" r="17.7"/><circle cx="1149.7" cy="2853.3" r="17.7"/><circle cx="1194.1" cy="2865.0" r="17.7"/><circle cx="1292.6" cy="2875.8" r="17.7"/><circle cx="1130.1" cy="2924.7" r="17.7"/><circle cx="1375.7" cy="2677.4" r="17.7"/><circle cx="914.5" cy="2952.5" r="17.7"/>
</g>
<path class="ax" style="stroke-width:7.8" d="M298.0 2258.0 V3109.5 M2050.0 2258.0 V3079.2"/>
<circle cx="298.0" cy="3109.5" r="3.9" fill="#000"/>
<path class="ax" d="M298.0 2261.0 H2050.0 M298.0 3076.2 H2050.0"/>
<path class="tick" d="M298.0 3076.2 H262.0 M298.0 2974.3 H280.5 M298.0 2872.4 H262.0 M298.0 2770.5 H280.5 M298.0 2668.6 H262.0 M298.0 2566.7 H280.5 M298.0 2464.8 H262.0 M298.0 2362.9 H280.5 M298.0 2261.0 H262.0 M298.0 3076.2 V3111.0 M437.5 3076.2 V3093.5 M519.1 3076.2 V3093.5 M577.0 3076.2 V3093.5 M621.9 3076.2 V3093.5 M658.6 3076.2 V3093.5 M689.6 3076.2 V3093.5 M716.5 3076.2 V3093.5 M740.2 3076.2 V3093.5 M761.4 3076.2 V3111.0 M900.9 3076.2 V3093.5 M982.5 3076.2 V3093.5 M1040.4 3076.2 V3093.5 M1085.3 3076.2 V3093.5 M1122.0 3076.2 V3093.5 M1153.0 3076.2 V3093.5 M1179.9 3076.2 V3093.5 M1203.6 3076.2 V3093.5 M1224.8 3076.2 V3111.0 M1364.3 3076.2 V3093.5 M1445.9 3076.2 V3093.5 M1503.8 3076.2 V3093.5 M1548.7 3076.2 V3093.5 M1585.4 3076.2 V3093.5 M1616.4 3076.2 V3093.5 M1643.3 3076.2 V3093.5 M1667.0 3076.2 V3093.5 M1688.2 3076.2 V3111.0 M1827.7 3076.2 V3093.5 M1909.3 3076.2 V3093.5 M1967.2 3076.2 V3093.5 M2012.1 3076.2 V3093.5 M2048.8 3076.2 V3093.5"/>
<text class="tk" x="238" y="3095.7" text-anchor="end">0</text>
<text class="tk" x="238" y="2891.9" text-anchor="end">1</text>
<text class="tk" x="238" y="2688.1" text-anchor="end">2</text>
<text class="tk" x="238" y="2484.3" text-anchor="end">3</text>
<text class="tk" x="238" y="2280.5" text-anchor="end">4</text>
<text><tspan x="216.0" y="3217.0" font-size="83.0">10</tspan><tspan x="308.1" y="3170.0" font-size="50.0">-26</tspan></text>
<text><tspan x="679.4" y="3217.0" font-size="83.0">10</tspan><tspan x="771.5" y="3170.0" font-size="50.0">-25</tspan></text>
<text><tspan x="1142.8" y="3217.0" font-size="83.0">10</tspan><tspan x="1234.9" y="3170.0" font-size="50.0">-24</tspan></text>
<text><tspan x="1606.2" y="3217.0" font-size="83.0">10</tspan><tspan x="1698.3" y="3170.0" font-size="50.0">-23</tspan></text>
</g>
<text><tspan x="831.3" y="1118.6" font-size="84.8">Wavenumber (cm</tspan><tspan x="1498.6" y="1073.4" font-size="49.6">—</tspan><tspan x="1551.0" y="1073.4" font-size="50.5">1</tspan><tspan x="1583.1" y="1118.6" font-size="84.8">)</tspan></text>
<text><tspan class="it" x="1062.0" y="2210.3" font-size="87.1">E</tspan><tspan class="it" x="1119.1" y="2241.3" font-size="50.0">up</tspan><tspan x="1195.7" y="2210.3" font-size="85.3">(cm</tspan><tspan x="1336.7" y="2163.5" font-size="50.8">—</tspan><tspan x="1389.9" y="2163.5" font-size="50.5">1</tspan><tspan x="1419.9" y="2210.3" font-size="85.3">)</tspan></text>
<text><tspan class="it" x="744.6" y="3315.0" font-size="92.7">S</tspan><tspan class="it" x="804.0" y="3351.3" font-size="54.2">Exp</tspan><tspan x="922.6" y="3315.0" font-size="92.7">(cm/molecule)</tspan></text>
<text transform="translate(115.0 0) rotate(-90) scale(1 1.050)"><tspan x="-1946.2" y="0.0" font-size="84.1">Energy difference (Exp. — Var.)  (cm</tspan><tspan x="-566.0" y="-44.6" font-size="49.6">—</tspan><tspan x="-514.5" y="-44.6" font-size="50.5">1</tspan><tspan x="-483.5" y="0.0" font-size="84.1">)</tspan></text>
<text transform="translate(121.8 0) rotate(-90) scale(1 1.050)"><tspan class="it" x="-2922.1" y="0.0" font-size="91.7">S</tspan><tspan class="it" x="-2861.3" y="34.3" font-size="54.5">Exp</tspan><tspan class="it" x="-2738.4" y="0.0" font-size="91.7">/</tspan><tspan class="it" x="-2714.2" y="0.0" font-size="91.7">S</tspan><tspan class="it" x="-2653.9" y="34.3" font-size="55.9">Var</tspan></text>
</svg>
</body></html>
